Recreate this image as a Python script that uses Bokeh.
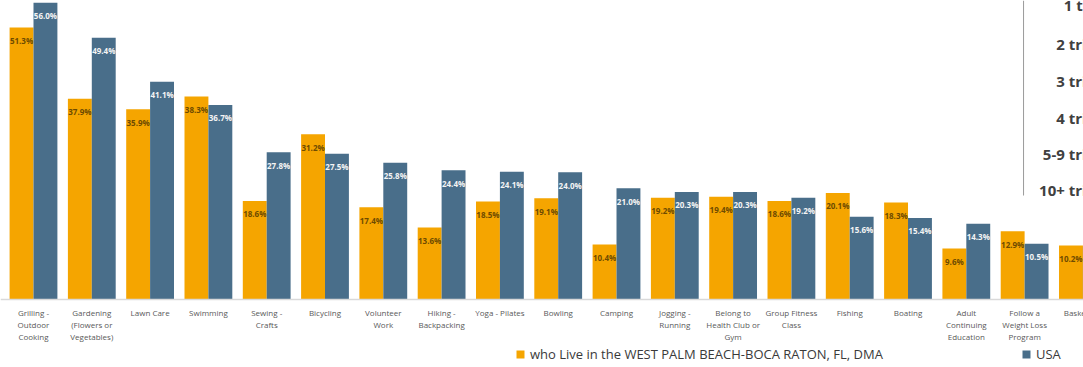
from bokeh.plotting import figure
from bokeh.models import (ColumnDataSource, Range1d, Legend, LegendItem,
                          Label, BoxAnnotation, Span)
from bokeh.transform import dodge
from bokeh.core.properties import value
from bokeh.embed import file_html
from bokeh.resources import INLINE

categories = [
    "Grilling -\nOutdoor\nCooking", "Gardening\n(Flowers or\nVegetables)", "Lawn Care", "Swimming",
    "Sewing -\nCrafts", "Bicycling", "Volunteer\nWork", "Hiking -\nBackpacking", "Yoga - Pilates",
    "Bowling", "Camping", "Jogging -\nRunning", "Belong to\nHealth Club or\nGym",
    "Group Fitness\nClass", "Fishing", "Boating", "Adult\nContinuing\nEducation",
    "Follow a\nWeight Loss\nProgram", "Basketball",
]
local_vals = [51.3, 37.9, 35.9, 38.3, 18.6, 31.2, 17.4, 13.6, 18.5, 19.1, 10.4, 19.2,
              19.4, 18.6, 20.1, 18.3, 9.6, 12.9, 10.2]
usa_vals = [56.0, 49.4, 41.1, 36.7, 27.8, 27.5, 25.8, 24.4, 24.1, 24.0, 21.0, 20.3,
            20.3, 19.2, 15.6, 15.4, 14.3, 10.5, 10.0]
series_names = ["who Live in the WEST PALM BEACH-BOCA RATON, FL, DMA", "USA"]
overlay_texts = ["1 trip", "2 trips", "3 trips", "4 trips", "5-9 trips", "10+ trips"]

ORANGE = "#F5A500"
BLUE = "#496E8A"

xs = list(range(len(categories)))
source = ColumnDataSource(dict(
    x=xs, zero=[0] * len(xs), cat=categories,
    local=local_vals, usa=usa_vals,
    local_lbl=[f"{v:.1f}%" for v in local_vals],
    usa_lbl=[f"{v:.1f}%" for v in usa_vals],
))

p = figure(width=1083, height=367, output_backend="svg", toolbar_location=None,
           x_range=Range1d(-0.566, 18.01), y_range=Range1d(-12.83, 56.415),
           min_border_left=0, min_border_right=0, min_border_top=0, min_border_bottom=0)
p.outline_line_color = None
p.grid.visible = False
p.axis.visible = False

bw = 0.41
r1 = p.vbar(x=dodge("x", -bw / 2), top="local", width=bw, source=source,
            fill_color=ORANGE, line_color=None)
r2 = p.vbar(x=dodge("x", bw / 2), top="usa", width=bw, source=source,
            fill_color=BLUE, line_color=None)

p.text(x=dodge("x", -bw / 2), y="local", text="local_lbl", source=source,
       text_align="center", text_baseline="middle", y_offset=13,
       text_font=value("Open Sans"), text_font_size="8px", text_font_style="bold",
       text_color="#6e4b00")
p.text(x=dodge("x", bw / 2), y="usa", text="usa_lbl", source=source,
       text_align="center", text_baseline="middle", y_offset=13,
       text_font=value("Open Sans"), text_font_size="8px", text_font_style="bold",
       text_color="#f4f4f4")

# category axis: baseline + labels
p.add_layout(Span(location=0, dimension="width", line_color="#d9d9d9", line_width=1.5))
p.text(x="x", y="zero", text="cat", source=source, text_align="center",
       text_baseline="top", y_offset=7, text_line_height=1.1,
       text_font=value("Open Sans"), text_font_size="8px", text_color="#595959")

legend = Legend(items=[LegendItem(label=series_names[0], renderers=[r1]),
                       LegendItem(label=series_names[1], renderers=[r2])],
                orientation="horizontal", location=(515, 4), spacing=138,
                glyph_width=10, glyph_height=10, label_standoff=5,
                label_text_font="Open Sans", label_text_font_size="13px",
                label_text_color="#3a3a3a", border_line_color=None,
                background_fill_alpha=0, padding=0, margin=0)
p.add_layout(legend, "center")

# fragment of an overlapping table at the right edge
p.add_layout(BoxAnnotation(left=16.975, right=16.99, bottom=19.6,
                           fill_color="#8c8c8c", fill_alpha=1, line_color=None))
ys = [55.5, 48.3, 41.3, 34.3, 27.5, 20.6]
for t, yv in zip(overlay_texts, ys):
    p.add_layout(Label(x=18.354, y=yv, text=t, text_align="right", text_baseline="middle",
                       text_font="Open Sans", text_font_size="15px", text_font_style="bold",
                       text_color="#404040"))

open("out.html", "w").write(file_html(p, INLINE))
